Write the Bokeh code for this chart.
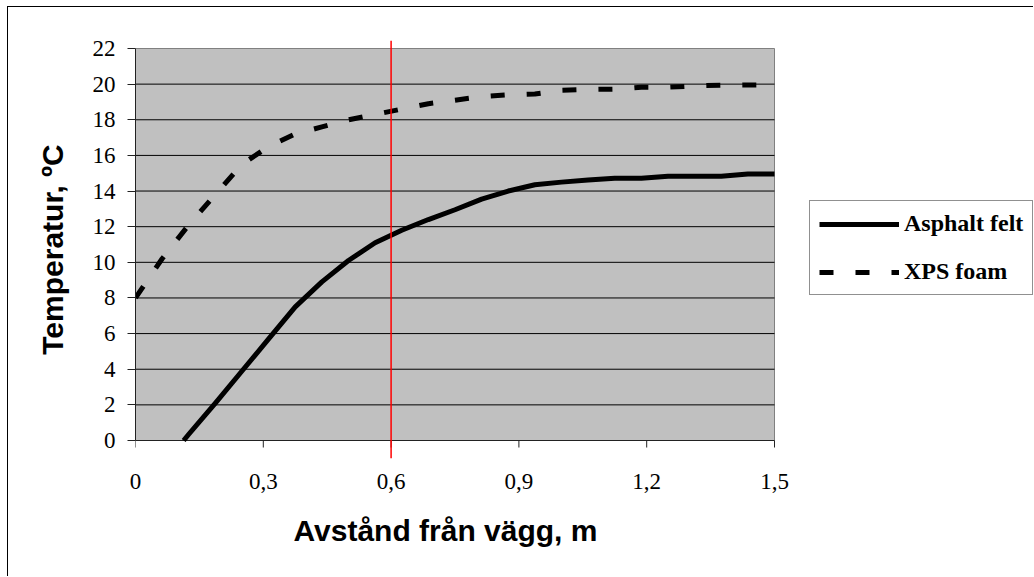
from bokeh.plotting import figure
from bokeh.models import Range1d, FixedTicker, Span, Legend, LegendItem, Title
from bokeh.embed import file_html
from bokeh.resources import INLINE

# ---- data ----
x_ticks = [0, 0.3, 0.6, 0.9, 1.2, 1.5]
x_tick_labels = ["0", "0,3", "0,6", "0,9", "1,2", "1,5"]
y_ticks = [0, 2, 4, 6, 8, 10, 12, 14, 16, 18, 20, 22]

asphalt_x = [0.113, 0.125, 0.1875, 0.25, 0.3125, 0.375, 0.4375, 0.5, 0.5625,
             0.625, 0.6875, 0.75, 0.8125, 0.875, 0.9375, 1.0, 1.0625, 1.125,
             1.1875, 1.25, 1.3125, 1.375, 1.4375, 1.5]
asphalt_t = [0.0, 0.35, 2.1, 3.9, 5.7, 7.5, 8.9, 10.1, 11.1,
             11.8, 12.4, 12.95, 13.55, 14.0, 14.35, 14.5, 14.62, 14.72,
             14.72, 14.83, 14.83, 14.83, 14.96, 14.96]

xps_x = [0, 0.0625, 0.125, 0.1875, 0.25, 0.3125, 0.375, 0.4375, 0.5, 0.5625,
         0.625, 0.6875, 0.75, 0.8125, 0.875, 0.9375, 1.0, 1.0625, 1.125,
         1.1875, 1.25, 1.3125, 1.375, 1.4375, 1.5]
xps_t = [8.0, 10.2, 12.1, 13.8, 15.5, 16.5, 17.2, 17.6, 18.0, 18.3,
         18.6, 18.9, 19.1, 19.3, 19.4, 19.45, 19.65, 19.7, 19.72,
         19.83, 19.83, 19.9, 19.94, 19.95, 19.97]

marker_x = 0.6

series_names = ["Asphalt felt", "XPS foam"]
x_label = "Avstånd från vägg, m"
y_label = "Temperatur, ºC"

# ---- geometry (pixels) ----
PX_PER_X = 639.0 / 1.5     # horizontal scale of the plot area
PX_PER_Y = 392.0 / 22.0    # vertical scale of the plot area
FRAME_W = 899
x_end = FRAME_W / PX_PER_X
y_top = y_ticks[-1] + 8 / PX_PER_Y
y_bot = -18 / PX_PER_Y
tick_len = 7 / PX_PER_Y

# ---- figure ----
p = figure(width=1026, height=570, output_backend="svg", toolbar_location=None,
           x_range=Range1d(0, x_end), y_range=Range1d(y_bot, y_top),
           min_border_left=127, min_border_right=0,
           min_border_top=33, min_border_bottom=119)
p.styles = {"margin-left": "8px", "margin-top": "7px",
            "box-shadow": "-1px -1px 0 0 #000"}
p.outline_line_color = None
p.background_fill_color = "white"
p.border_fill_color = "white"
p.xgrid.visible = False
p.ygrid.visible = False

# plot area background
p.quad(left=[x_ticks[0]], right=[x_ticks[-1]], bottom=[y_ticks[0]], top=[y_ticks[-1]],
       fill_color="#c0c0c0", line_color="#808080", line_width=1, level="image")

# horizontal grid lines (inside the plot area only)
gy = y_ticks[1:-1]
p.segment(x0=[x_ticks[0]] * len(gy), x1=[x_ticks[-1]] * len(gy), y0=gy, y1=gy,
          line_color="#000000", line_width=1, level="underlay")

# x axis line and tick marks at y = 0
p.segment(x0=[x_ticks[0]], x1=[x_ticks[-1]], y0=[y_ticks[0]], y1=[y_ticks[0]],
          line_color="#222222", line_width=1, level="underlay")
p.segment(x0=x_ticks, x1=x_ticks, y0=[y_ticks[0]] * len(x_ticks),
          y1=[y_ticks[0] - tick_len] * len(x_ticks),
          line_color="#222222", line_width=1, level="underlay")

# curves
r1 = p.line(asphalt_x, asphalt_t, line_color="black", line_width=5, line_join="round")
r2 = p.line(xps_x, xps_t, line_color="black", line_width=5, line_dash="14 22")

# red marker line
p.add_layout(Span(location=marker_x, dimension="height", line_color="red", line_width=1.5))

# axes
for ax in (p.xaxis[0], p.yaxis[0]):
    ax.axis_line_color = "#222222"
    ax.major_tick_line_color = "#222222"
    ax.minor_tick_line_color = None
    ax.major_tick_in = 0
    ax.major_label_text_font = "Liberation Serif"
    ax.major_label_text_font_size = "23px"
    ax.major_label_text_color = "black"

xa = p.xaxis[0]
xa.bounds = (x_ticks[0], x_ticks[-1])
xa.ticker = FixedTicker(ticks=x_ticks)
xa.major_label_overrides = {t: l for t, l in zip(x_ticks, x_tick_labels)}
xa.axis_line_color = None
xa.major_tick_line_color = None
xa.major_tick_out = 0
xa.major_label_standoff = 15

ya = p.yaxis[0]
ya.bounds = (y_ticks[0], y_ticks[-1])
ya.ticker = FixedTicker(ticks=y_ticks)
ya.major_tick_out = 8
ya.major_label_standoff = 12

# axis titles
p.add_layout(Title(text=x_label, align="left", offset=158, standoff=40,
                   text_font="Liberation Sans", text_font_style="bold",
                   text_font_size="30px", text_color="black"), "below")
p.add_layout(Title(text=y_label, align="center", offset=6, standoff=41,
                   text_font="Liberation Sans", text_font_style="bold",
                   text_font_size="30px", text_color="black"), "left")

# legend
legend = Legend(items=[LegendItem(label=series_names[0], renderers=[r1]),
                       LegendItem(label=series_names[1], renderers=[r2])],
                location=(674, 163))
legend.border_line_color = "#222222"
legend.border_line_width = 1
legend.background_fill_color = "white"
legend.background_fill_alpha = 1
legend.label_text_font = "Liberation Serif"
legend.label_text_font_style = "bold"
legend.label_text_font_size = "24px"
legend.label_text_color = "black"
legend.glyph_width = 80
legend.glyph_height = 24
legend.label_height = 24
legend.padding = 9
legend.spacing = 21
legend.label_standoff = 5
legend.margin = 0
p.add_layout(legend)

open("out.html", "w").write(file_html(p, INLINE))
